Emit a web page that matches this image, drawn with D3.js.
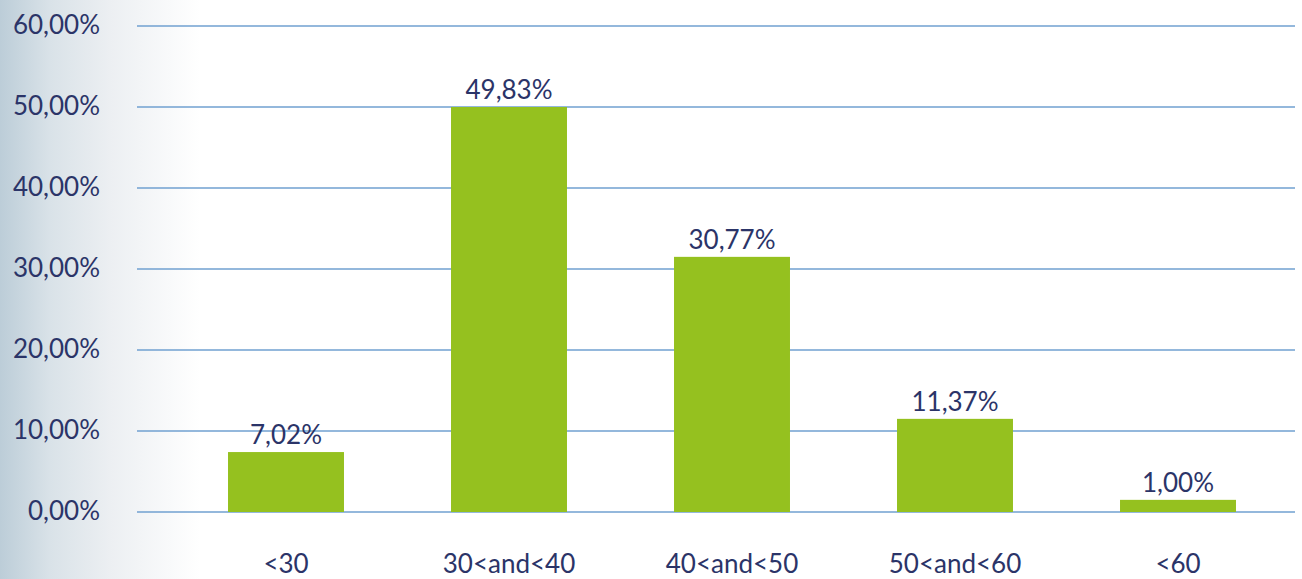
<!DOCTYPE html>
<html>
<head>
<meta charset="utf-8">
<script src="https://cdn.jsdelivr.net/npm/d3@7"></script>
<style>
  html, body { margin: 0; padding: 0; background: #fff; }
  svg text { font-family: Lato, "Open Sans", sans-serif; fill: #2b3468; }
</style>
</head>
<body>
<div id="chart"></div>
<script>
const categories = ["<30", "30<and<40", "40<and<50", "50<and<60", "<60"];
// bar heights as drawn in the picture (percent)
const barValues = [7.4, 50.0, 31.5, 11.5, 1.5];
// labels as printed above the bars
const valueLabels = ["7,02%", "49,83%", "30,77%", "11,37%", "1,00%"];
const yTicks = [0, 10, 20, 30, 40, 50, 60];
const yTickLabels = ["0,00%", "10,00%", "20,00%", "30,00%", "40,00%", "50,00%", "60,00%"];

const width = 1302;
const height = 579;
const margin = { left: 137, right: 7, top: 26, bottom: 67 };
const fontSize = 26;

const svg = d3
  .select("#chart")
  .append("svg")
  .attr("width", width)
  .attr("height", height);

const grad = svg
  .append("defs")
  .append("linearGradient")
  .attr("id", "bg")
  .attr("x1", 0)
  .attr("x2", 1)
  .attr("y1", 0)
  .attr("y2", 0);
grad.append("stop").attr("offset", "0%").attr("stop-color", "#bccdd8");
grad.append("stop").attr("offset", "25%").attr("stop-color", "#d9e2e8");
grad.append("stop").attr("offset", "55%").attr("stop-color", "#eceff2");
grad.append("stop").attr("offset", "100%").attr("stop-color", "#ffffff");

svg
  .append("rect")
  .attr("x", 0)
  .attr("y", 0)
  .attr("width", 200)
  .attr("height", height)
  .attr("fill", "url(#bg)");

const yScale = d3
  .scaleLinear()
  .domain([0, 60])
  .range([height - margin.bottom, margin.top]);

const xScale = d3
  .scaleBand()
  .domain(categories)
  .range([174.5, 1289.5])
  .paddingInner(0.48)
  .paddingOuter(0.24);

// grid lines
svg
  .append("g")
  .selectAll("line")
  .data(yTicks)
  .join("line")
  .attr("x1", margin.left)
  .attr("x2", width - margin.right)
  .attr("y1", (d) => yScale(d))
  .attr("y2", (d) => yScale(d))
  .attr("stroke", "#70a1d0")
  .attr("stroke-width", 1.3);

const yAxis = d3
  .axisLeft(yScale)
  .tickValues(yTicks)
  .tickFormat((d, i) => yTickLabels[i])
  .tickSize(0)
  .tickPadding(0);

svg
  .append("g")
  .attr("transform", "translate(100, -2)")
  .call(yAxis)
  .call((g) => {
    g.select(".domain").remove();
    g.selectAll("text")
      .attr("font-size", fontSize)
      .attr("font-family", "Lato, sans-serif")
      .attr("fill", "#2b3468")
      .attr("dy", "0.35em");
  });

svg
  .append("g")
  .selectAll("rect")
  .data(barValues)
  .join("rect")
  .attr("x", (d, i) => xScale(categories[i]))
  .attr("width", xScale.bandwidth())
  .attr("y", (d) => yScale(d))
  .attr("height", (d) => yScale(0) - yScale(d))
  .attr("fill", "#95c11f");

svg
  .append("g")
  .selectAll("text")
  .data(barValues)
  .join("text")
  .attr("x", (d, i) => xScale(categories[i]) + xScale.bandwidth() / 2)
  .attr("y", (d) => yScale(d) - 8)
  .attr("text-anchor", "middle")
  .attr("font-size", fontSize)
  .text((d, i) => valueLabels[i]);

const xAxis = d3.axisBottom(xScale).tickSize(0).tickPadding(0);

svg
  .append("g")
  .attr("transform", `translate(0, ${yScale(0)})`)
  .call(xAxis)
  .call((g) => {
    g.select(".domain").remove();
    g.selectAll("text")
      .attr("font-size", fontSize)
      .attr("font-family", "Lato, sans-serif")
      .attr("fill", "#2b3468")
      .attr("y", 52)
      .attr("dy", "0.35em");
  });
</script>
</body>
</html>
